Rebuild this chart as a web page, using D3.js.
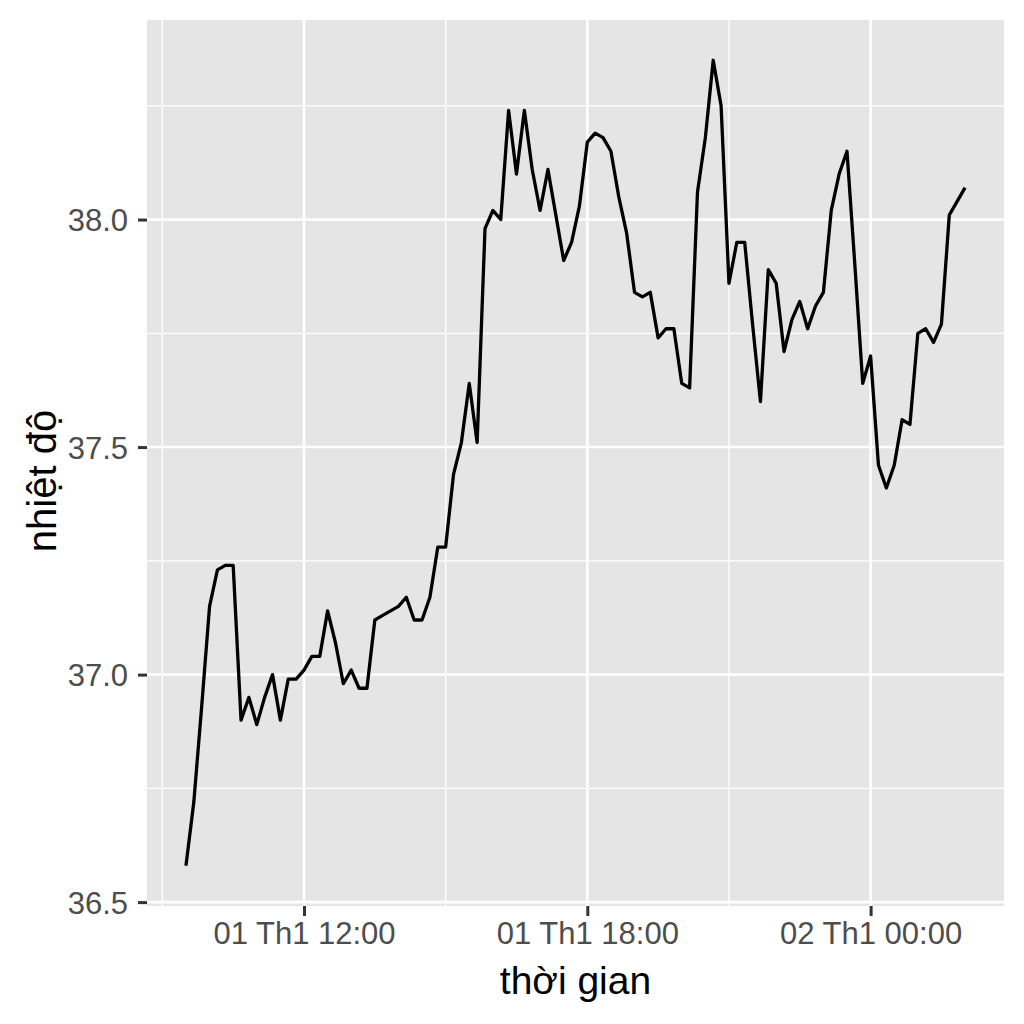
<!DOCTYPE html>
<html>
<head>
<meta charset="utf-8">
<script src="https://cdn.jsdelivr.net/npm/d3@7"></script>
<style>
  html, body { margin: 0; padding: 0; background: #ffffff; }
  svg { display: block; }
</style>
</head>
<body>
<svg id="chart" width="1024" height="1024"></svg>
<script>
// ---- data ----
const times = [
  "01 09:30","01 09:40","01 09:50",
  "01 10:00","01 10:10","01 10:20","01 10:30","01 10:40","01 10:50",
  "01 11:00","01 11:10","01 11:20","01 11:30","01 11:40","01 11:50",
  "01 12:00","01 12:10","01 12:20","01 12:30","01 12:40","01 12:50",
  "01 13:00","01 13:10","01 13:20","01 13:30","01 13:40","01 13:50",
  "01 14:00","01 14:10","01 14:20","01 14:30","01 14:40","01 14:50",
  "01 15:00","01 15:10","01 15:20","01 15:30","01 15:40","01 15:50",
  "01 16:00","01 16:10","01 16:20","01 16:30","01 16:40","01 16:50",
  "01 17:00","01 17:10","01 17:20","01 17:30","01 17:40","01 17:50",
  "01 18:00","01 18:10","01 18:20","01 18:30","01 18:40","01 18:50",
  "01 19:00","01 19:10","01 19:20","01 19:30","01 19:40","01 19:50",
  "01 20:00","01 20:10","01 20:20","01 20:30","01 20:40","01 20:50",
  "01 21:00","01 21:10","01 21:20","01 21:30","01 21:40","01 21:50",
  "01 22:00","01 22:10","01 22:20","01 22:30","01 22:40","01 22:50",
  "01 23:00","01 23:10","01 23:20","01 23:30","01 23:40","01 23:50",
  "02 00:00","02 00:10","02 00:20","02 00:30","02 00:40","02 00:50",
  "02 01:00","02 01:10","02 01:20","02 01:30","02 01:40","02 01:50",
  "02 02:00"
];
const temperature = [
  36.58, 36.72, 36.93, 37.15, 37.23, 37.24, 37.24, 36.90, 36.95, 36.89,
  36.95, 37.00, 36.90, 36.99, 36.99, 37.01, 37.04, 37.04, 37.14, 37.07,
  36.98, 37.01, 36.97, 36.97, 37.12, 37.13, 37.14, 37.15, 37.17, 37.12,
  37.12, 37.17, 37.28, 37.28, 37.44, 37.51, 37.64, 37.51, 37.98, 38.02,
  38.00, 38.24, 38.10, 38.24, 38.11, 38.02, 38.11, 38.01, 37.91, 37.95,
  38.03, 38.17, 38.19, 38.18, 38.15, 38.05, 37.97, 37.84, 37.83, 37.84,
  37.74, 37.76, 37.76, 37.64, 37.63, 38.06, 38.18, 38.35, 38.25, 37.86,
  37.95, 37.95, 37.77, 37.60, 37.89, 37.86, 37.71, 37.78, 37.82, 37.76,
  37.81, 37.84, 38.02, 38.10, 38.15, 37.90, 37.64, 37.70, 37.46, 37.41,
  37.46, 37.56, 37.55, 37.75, 37.76, 37.73, 37.77, 38.01, 38.04, 38.07
];
const xMajorTicks = ["01 12:00", "01 18:00", "02 00:00"];
const xMajorLabels = ["01 Th1 12:00", "01 Th1 18:00", "02 Th1 00:00"];
const xMinorTicks = ["01 09:00", "01 15:00", "01 21:00"];
const yMajorTicks = [36.5, 37.0, 37.5, 38.0];
const yMinorTicks = [36.75, 37.25, 37.75, 38.25];
const xTitle = "thời gian";
const yTitle = "nhiệt độ";

// ---- layout ----
const panel = { left: 147, right: 1004, top: 20, bottom: 906 };
const FONT = "'Liberation Sans', Arial, Helvetica, sans-serif";

const parseT = d3.timeParse("%d %H:%M");
const data = times.map((t, i) => ({ t: parseT(t), v: temperature[i] }));

function expand(ext, f) {
  const a = +ext[0], b = +ext[1], d = (b - a) * f;
  return [a - d, b + d];
}

const xDom = expand(d3.extent(data, d => d.t), 0.05).map(ms => new Date(ms));
const yDom = expand(d3.extent(data, d => d.v), 0.05);

const x = d3.scaleTime().domain(xDom).range([panel.left, panel.right]);
const y = d3.scaleLinear().domain(yDom).range([panel.bottom, panel.top]);

const svg = d3.select("#chart");

// panel background
svg.append("rect")
  .attr("x", panel.left).attr("y", panel.top)
  .attr("width", panel.right - panel.left)
  .attr("height", panel.bottom - panel.top)
  .attr("fill", "#E5E5E5");

const grid = svg.append("g");
// minor grid
grid.selectAll(".ymin").data(yMinorTicks).join("line")
  .attr("x1", panel.left).attr("x2", panel.right)
  .attr("y1", d => y(d)).attr("y2", d => y(d))
  .attr("stroke", "#ffffff").attr("stroke-width", 1.3);
grid.selectAll(".xmin").data(xMinorTicks.map(parseT)).join("line")
  .attr("y1", panel.top).attr("y2", panel.bottom)
  .attr("x1", d => x(d)).attr("x2", d => x(d))
  .attr("stroke", "#ffffff").attr("stroke-width", 1.3);
// major grid
grid.selectAll(".ymaj").data(yMajorTicks).join("line")
  .attr("x1", panel.left).attr("x2", panel.right)
  .attr("y1", d => y(d)).attr("y2", d => y(d))
  .attr("stroke", "#ffffff").attr("stroke-width", 2.6);
grid.selectAll(".xmaj").data(xMajorTicks.map(parseT)).join("line")
  .attr("y1", panel.top).attr("y2", panel.bottom)
  .attr("x1", d => x(d)).attr("x2", d => x(d))
  .attr("stroke", "#ffffff").attr("stroke-width", 2.6);

// line
const line = d3.line().x(d => x(d.t)).y(d => y(d.v));
svg.append("path")
  .datum(data)
  .attr("d", line)
  .attr("fill", "none")
  .attr("stroke", "#000000")
  .attr("stroke-width", 3.3)
  .attr("stroke-linejoin", "round");

// axes
const xAxis = d3.axisBottom(x)
  .tickValues(xMajorTicks.map(parseT))
  .tickFormat((d, i) => xMajorLabels[i])
  .tickSize(10).tickPadding(6);
const gx = svg.append("g")
  .attr("transform", `translate(0,${panel.bottom})`)
  .call(xAxis);
gx.select(".domain").remove();
gx.selectAll(".tick line").attr("stroke", "#333333").attr("stroke-width", 3);
gx.selectAll(".tick text")
  .attr("fill", "#4D4D4D")
  .style("font-family", FONT)
  .style("font-size", "31px")
  .attr("dy", "0.71em");

const yAxis = d3.axisLeft(y)
  .tickValues(yMajorTicks)
  .tickFormat(d3.format(".1f"))
  .tickSize(9).tickPadding(10);
const gy = svg.append("g")
  .attr("transform", `translate(${panel.left},0)`)
  .call(yAxis);
gy.select(".domain").remove();
gy.selectAll(".tick line").attr("stroke", "#333333").attr("stroke-width", 3);
gy.selectAll(".tick text")
  .attr("fill", "#4D4D4D")
  .style("font-family", FONT)
  .style("font-size", "31px")
  .attr("dy", "0.36em");

// axis titles
svg.append("text")
  .attr("x", (panel.left + panel.right) / 2)
  .attr("y", 994)
  .attr("text-anchor", "middle")
  .style("font-family", FONT)
  .style("font-size", "39px")
  .attr("fill", "#000000")
  .text(xTitle);

svg.append("text")
  .attr("transform", `translate(56,481) rotate(-90)`)
  .attr("text-anchor", "middle")
  .style("font-family", FONT)
  .style("font-size", "40px")
  .attr("fill", "#000000")
  .text(yTitle);
</script>
</body>
</html>
